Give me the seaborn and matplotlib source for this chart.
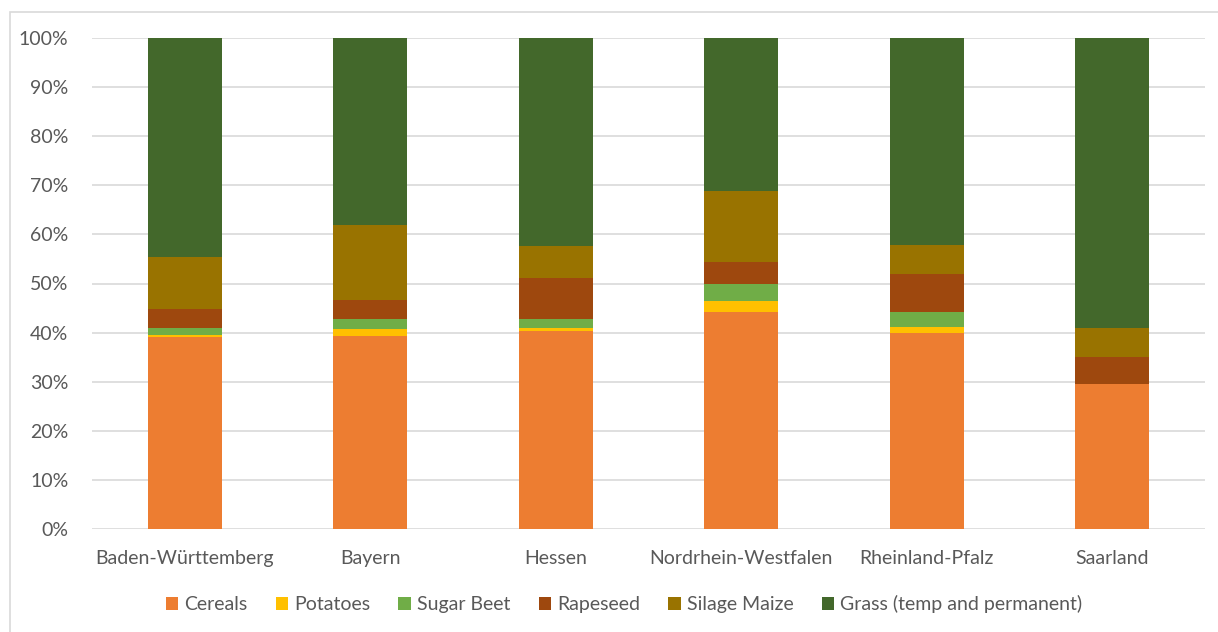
import matplotlib
matplotlib.use("Agg")
import matplotlib.pyplot as plt
import numpy as np
import pandas as pd
import seaborn as sns
from matplotlib.patches import Patch, Rectangle
from matplotlib.ticker import PercentFormatter

states = ["Baden-Württemberg", "Bayern", "Hessen", "Nordrhein-Westfalen",
          "Rheinland-Pfalz", "Saarland"]

crops = ["Cereals", "Potatoes", "Sugar Beet", "Rapeseed", "Silage Maize",
         "Grass (temp and permanent)"]

# shares in percent, one list per crop (same order as states)
cereals = [39.2, 39.3, 40.3, 44.1, 40.0, 29.5]
potatoes = [0.3, 1.4, 0.6, 2.3, 1.1, 0.0]
sugar_beet = [1.4, 2.0, 1.8, 3.6, 3.0, 0.0]
rapeseed = [3.9, 4.0, 8.5, 4.4, 7.8, 5.5]
silage_maize = [10.5, 15.3, 6.5, 14.4, 5.9, 5.9]
grass = [44.7, 38.0, 42.3, 31.2, 42.2, 59.1]

colors = ["#ED7D31", "#FFC000", "#70AD47", "#9E480E", "#997300", "#43682B"]

series = [cereals, potatoes, sugar_beet, rapeseed, silage_maize, grass]
df = pd.DataFrame(np.array(series).T, index=states, columns=crops)
# normalise to 100 % like a 100% stacked column chart
df = df.div(df.sum(axis=1), axis=0)
cum = df.cumsum(axis=1)

sns.set_style("white")
plt.rcParams["font.family"] = ["Lato", "DejaVu Sans"]

fig = plt.figure(figsize=(12.18, 6.32), dpi=100)
ax = fig.add_axes([92 / 1218, 1 - 529 / 632, (1205 - 92) / 1218, (529 - 38) / 632])

# draw from the top of the stack down so lower segments sit on top
for crop, col in reversed(list(zip(crops, colors))):
    sns.barplot(x=cum.index, y=cum[crop].values, color=col, width=0.4,
                saturation=1, linewidth=0, ax=ax, zorder=3)

ax.set_ylim(0, 1)
ax.set_xlim(-0.5, len(states) - 0.5)
ax.set_yticks(np.arange(0, 1.01, 0.1))
ax.yaxis.set_major_formatter(PercentFormatter(1.0, decimals=0))
ax.grid(axis="y", color="#D9D9D9", linewidth=1.2, zorder=0)
ax.set_axisbelow(True)
for s in ax.spines.values():
    s.set_visible(False)
ax.tick_params(axis="both", length=0, labelsize=14, labelcolor="#595959")
ax.tick_params(axis="y", pad=17)
ax.tick_params(axis="x", pad=15)
ax.set_xlabel("")
ax.set_ylabel("")

handles = [Patch(facecolor=c, edgecolor="none") for c in colors]
fig.legend(handles, crops, loc="center", bbox_to_anchor=(624 / 1218, 1 - 604 / 632),
           ncol=6, frameon=False, fontsize=14, labelcolor="#595959",
           handlelength=0.65, handleheight=0.65, handletextpad=0.3, columnspacing=1.45)

fig.patches.append(Rectangle((10 / 1218, -0.05), 1.1, 1 - 12 / 632 + 0.05,
                             transform=fig.transFigure, fill=False,
                             edgecolor="#D9D9D9", linewidth=1.2))

fig.savefig("out.png", dpi=100, facecolor="white")
